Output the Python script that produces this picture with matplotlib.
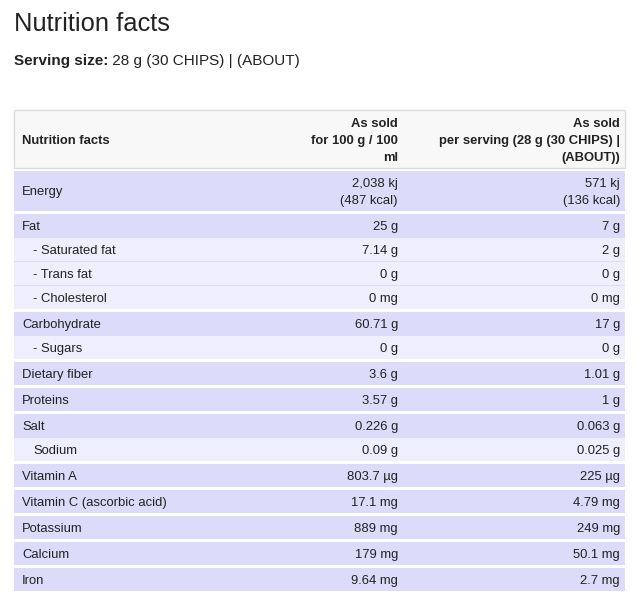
import matplotlib.pyplot as plt
from matplotlib.patches import Rectangle

plt.rcParams['font.family'] = ['Liberation Sans', 'DejaVu Sans']

# table content
labels = ["Energy", "Fat", "- Saturated fat", "- Trans fat", "- Cholesterol",
          "Carbohydrate", "- Sugars", "Dietary fiber", "Proteins", "Salt",
          "Sodium", "Vitamin A", "Vitamin C (ascorbic acid)", "Potassium",
          "Calcium", "Iron"]
per_100g = ["2,038 kj\n(487 kcal)", "25 g", "7.14 g", "0 g", "0 mg", "60.71 g",
            "0 g", "3.6 g", "3.57 g", "0.226 g", "0.09 g", "803.7 µg",
            "17.1 mg", "889 mg", "179 mg", "9.64 mg"]
per_serving = ["571 kj\n(136 kcal)", "7 g", "2 g", "0 g", "0 mg", "17 g",
               "0 g", "1.01 g", "1 g", "0.063 g", "0.025 g", "225 µg",
               "4.79 mg", "249 mg", "50.1 mg", "2.7 mg"]
is_sub = [False, False, True, True, True, False, True, False, False, False,
          True, False, False, False, False, False]

header_left = "Nutrition facts"
header_col2 = ["As sold", "for 100 g / 100", "ml"]
header_col3 = ["As sold", "per serving (28 g (30 CHIPS) |", "(ABOUT))"]

title = "Nutrition facts"
serving_bold = "Serving size:"
serving_rest = " 28 g (30 CHIPS) | (ABOUT)"

# layout in pixels
W, H = 640, 606
left, right = 14, 625
col2_x, col3_x = 398, 620
fs = 9.4          # ~13 px
line_h = 17
row_h = 23
text_col = '#222222'
main_bg = '#dcdcfa'
sub_bg = '#eeeefc'
sep_col = '#dcdcf2'

fig = plt.figure(figsize=(W / 100, H / 100), dpi=100)
ax = fig.add_axes([0, 0, 1, 1])
ax.set_xlim(0, W)
ax.set_ylim(H, 0)
ax.axis('off')

# title and serving size
ax.text(14, 31, title, fontsize=18.4, color=text_col, va='baseline')
t = ax.text(14, 65, serving_bold, fontsize=11, fontweight='bold',
            color=text_col, va='baseline')
renderer = fig.canvas.get_renderer()
bb = t.get_window_extent(renderer).transformed(ax.transData.inverted())
ax.text(bb.x1, 65, serving_rest, fontsize=11, color=text_col, va='baseline')

# header
hdr_top, hdr_bot = 110, 168
ax.add_patch(Rectangle((left, hdr_top), right - left, hdr_bot - hdr_top,
                       facecolor='#f8f8f8', edgecolor='#dddddd', lw=1))
for i, (a, b) in enumerate(zip(header_col2, header_col3)):
    yb = 127 + i * line_h
    ax.text(col2_x, yb, a, fontsize=fs, fontweight='bold', ha='right',
            va='baseline', color=text_col)
    ax.text(col3_x, yb, b, fontsize=fs, fontweight='bold', ha='right',
            va='baseline', color=text_col)
ax.text(22, 144, header_left, fontsize=fs, fontweight='bold',
        va='baseline', color=text_col)

# rows
y = hdr_bot
for lab, v1, v2, sub in zip(labels, per_100g, per_serving, is_sub):
    n = max(len(v1.split('\n')), len(v2.split('\n')))
    h = row_h + line_h * (n - 1)
    if sub:
        ax.add_patch(Rectangle((left, y), right - left, 1, facecolor=sep_col,
                               lw=0, antialiased=False))
        y += 1
    else:
        y += 3
    ax.add_patch(Rectangle((left, y), right - left, h,
                           facecolor=sub_bg if sub else main_bg,
                           lw=0, antialiased=False))
    lx = 33 if sub else 22
    ax.text(lx, y + h / 2 + 4.5, lab, fontsize=fs, va='baseline',
            color=text_col)
    first = y + (h - line_h * (n - 1)) / 2 + 4.5
    for x, val in ((col2_x, v1), (col3_x, v2)):
        for k, part in enumerate(val.split('\n')):
            ax.text(x, first + k * line_h, part, fontsize=fs, ha='right',
                    va='baseline', color=text_col)
    y += h

fig.savefig('out.png', dpi=100)
